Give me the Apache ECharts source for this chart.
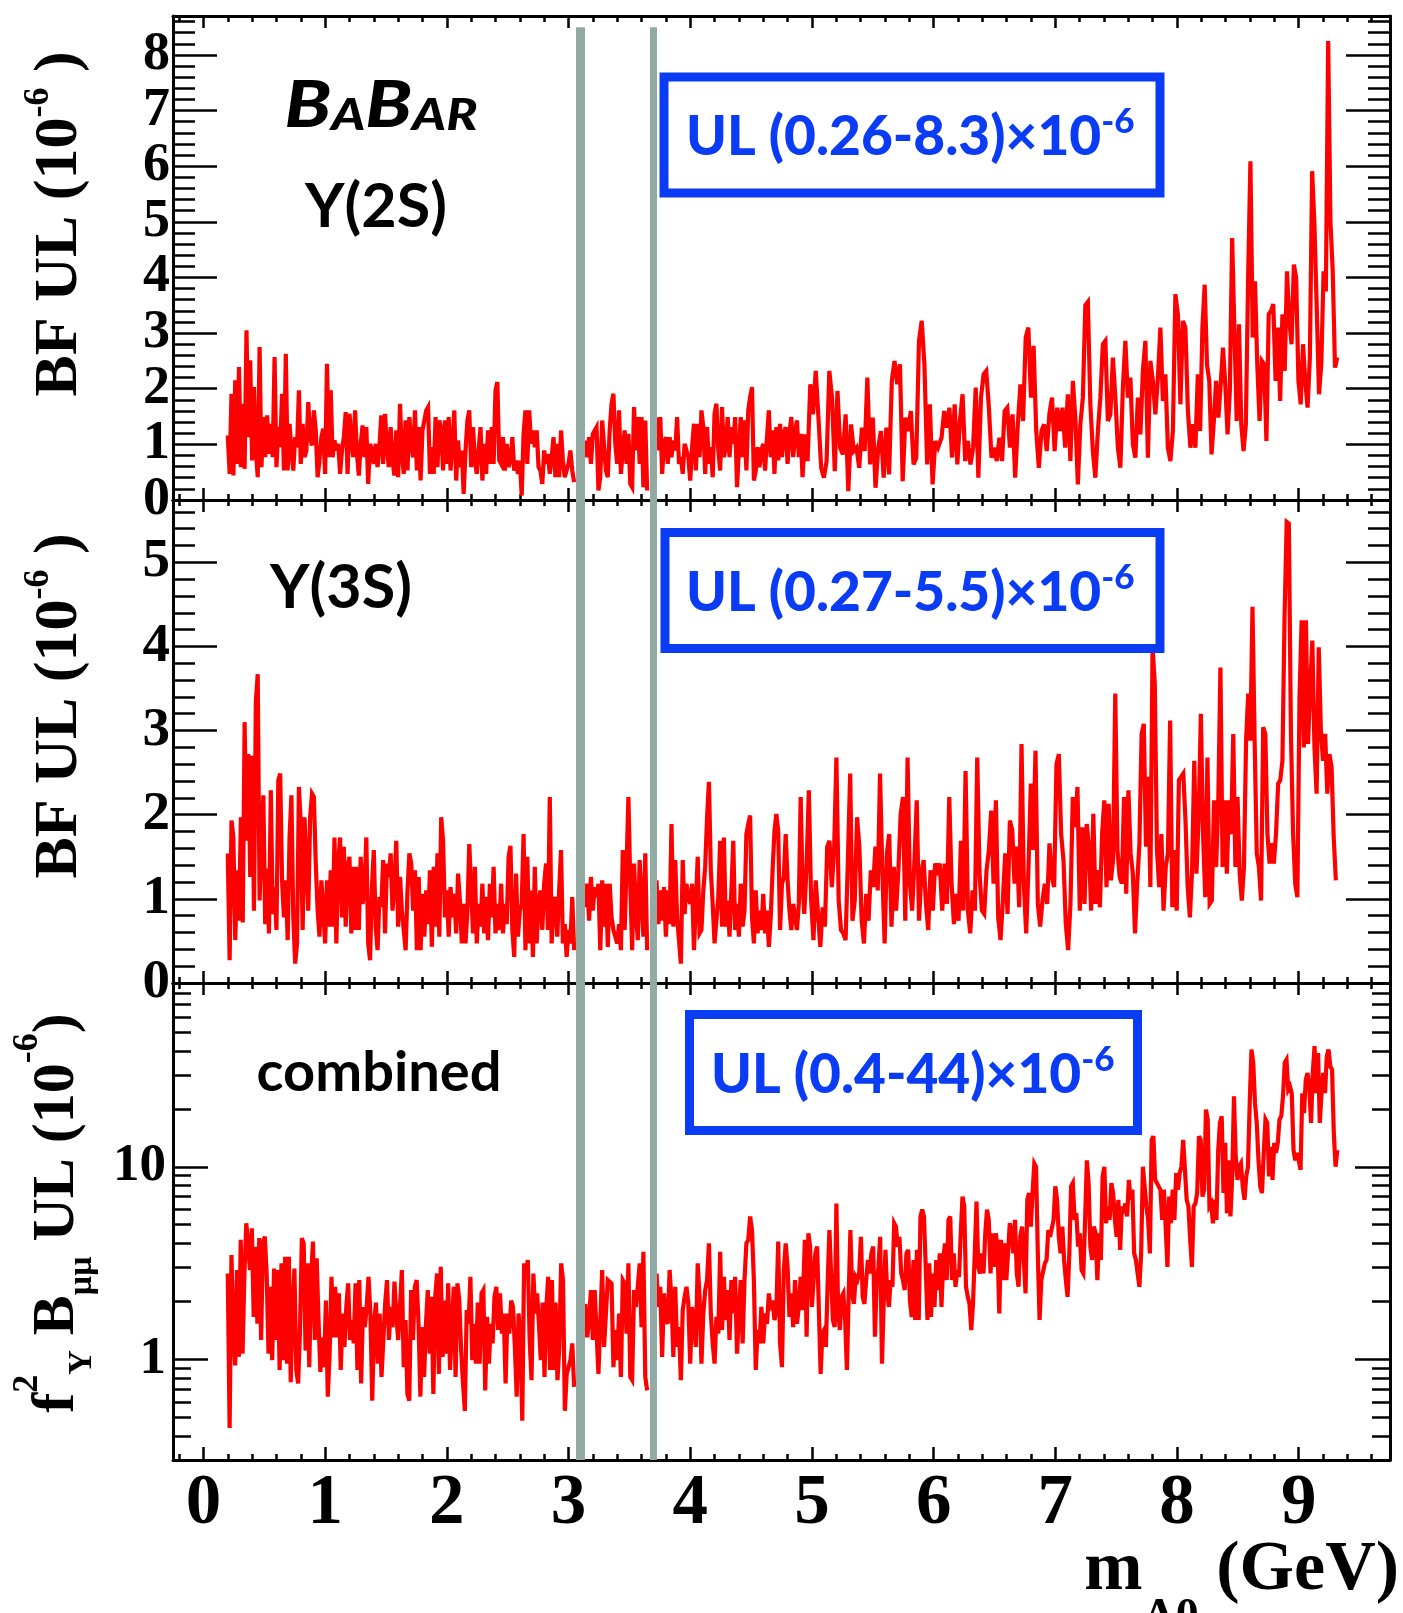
<!DOCTYPE html>
<html><head><meta charset="utf-8">
<script src="https://cdn.jsdelivr.net/npm/echarts@6/dist/echarts.min.js"></script>
<style>html,body{margin:0;padding:0;background:#fff}#c{width:1403px;height:1613px}</style>
</head><body><div id="c"></div>
<script>
// ---------------- axis ticks / labels ----------------
const X_RANGE = [-0.25, 9.75];
const X_MAJOR = [0,1,2,3,4,5,6,7,8,9];
const X_MINOR = [-0.2,0.2,0.4,0.6,0.8,1.2,1.4,1.6,1.8,2.2,2.4,2.6,2.8,3.2,3.4,3.6,3.8,4.2,4.4,4.6,4.8,5.2,5.4,5.6,5.8,6.2,6.4,6.6,6.8,7.2,7.4,7.6,7.8,8.2,8.4,8.6,8.8,9.2,9.4,9.6];
const Y2S_RANGE = [0, 8.7];
const Y2S_MAJOR = [0,1,2,3,4,5,6,7,8];
const Y3S_RANGE = [0, 5.74];
const Y3S_MAJOR = [0,1,2,3,4,5];
const YC_RANGE = [0.3, 90];
const YC_MAJOR = [1,10];
const YC_MINOR = [0.3,0.4,0.5,0.6,0.7,0.8,0.9,2,3,4,5,6,7,8,9,20,30,40,50,60,70,80,90];
const BAND_X = [3.10, 3.695];   // excluded J/psi and psi(2S) regions

// ---------------- Upsilon(2S) BF UL (1e-6) ----------------
const y2S_a = [1.16,0.47,1.91,0.44,2.15,0.65,2.39,0.59,1.73,0.56,
3.05,1.13,2.51,0.71,2.03,0.89,0.41,2.75,0.59,1.49,
0.77,1.52,0.83,1.37,0.77,2.57,0.59,1.31,0.95,1.91,
0.53,2.63,0.53,1.37,0.89,0.53,1.13,0.95,1.97,0.65,
1.37,0.77,0.89,1.76,1.13,0.98,1.61,1.25,0.41,0.71,
1.13,1.28,0.47,2.45,0.77,1.97,0.77,1.07,0.89,1.01,
0.47,0.89,1.13,1.58,0.47,1.55,1.13,0.77,1.61,0.83,
0.44,1.01,1.34,0.77,1.31,0.29,1.01,0.89,0.65,1.01,
0.59,0.95,1.52,0.65,1.55,0.95,0.59,1.31,0.71,0.44,
1.25,0.41,1.73,0.83,0.47,1.43,0.53,1.49,1.01,0.77,
1.61,0.53,1.31,0.35,1.25,1.43,1.61,1.67,0.47,0.95,
0.47,1.49,0.59,1.43,1.25,0.53,1.43,0.65,1.49,0.53,
1.01,1.61,0.35,1.07,0.59,0.89,0.11,0.89,1.43,1.61,
0.59,1.31,0.71,0.47,0.89,1.31,0.35,1.01,0.47,1.25,
0.65,1.31,0.65,1.97,2.12,0.71,0.65,1.13,0.53,1.01,
0.59,0.71,1.13,0.53,0.71,0.47,0.71,0.08,1.19,1.61,
0.65,1.61,1.01,1.25,0.95,1.25,0.59,0.53,0.29,0.89,
0.65,0.83,0.47,0.77,1.13,0.41,1.01,0.41,1.25,0.71,
0.41,0.53,0.65,0.89,0.53,0.32];
const y2S_b = [1.07,0.77,1.13,0.65,1.19,1.25,1.31,0.17,0.41,1.43,
1.46,0.53,0.41,1.25,1.73,1.91,1.01,0.65,1.61,0.47,
0.89,1.25,0.65,1.19,0.29,0.23,1.67,0.89,1.49,0.65,
1.49,0.23,1.43,0.17];
const y2S_c = [1.49,0.89,1.49,0.47,1.01,1.13,0.65,1.13,0.77,1.07,
0.89,1.49,0.65,0.77,0.47,1.01,0.89,0.77,0.35,0.95,
1.37,0.53,1.37,0.77,1.61,1.31,0.47,1.31,0.65,0.95,
0.41,1.55,1.73,0.89,0.53,1.67,0.77,0.95,1.49,0.77,
1.31,1.01,1.49,0.23,0.89,1.49,0.77,1.43,0.53,1.61,
1.85,2.03,0.35,0.53,0.95,0.59,0.89,1.01,0.53,1.13,
1.61,0.77,1.25,0.47,1.31,0.71,1.37,0.77,1.19,1.31,
0.65,1.19,1.49,0.77,1.19,1.43,0.77,1.19,0.41];
const y2S_d1 = [1.18,0.70,2.08,1.54,2.32,1.48,0.58,0.40,0.70,2.32,
1.84,0.52,1.96,0.94,0.82,1.54,0.16,1.36,0.88,0.94,
0.58,1.30,0.88,2.20,0.64,1.48,0.22,0.94,1.24,0.40,
1.30,0.46,2.14,2.50,2.08,2.44,0.34,1.48,1.24,1.60,
0.64,0.76,2.86,3.22,2.44,0.64,1.72,0.28,1.06,0.94];
const y2S_d2 = [1.12,1.60,1.30,1.66,0.76,1.72,0.64,1.42,1.90,0.70,
1.06,0.64,0.94,2.02,0.40,1.84,2.26,2.32,1.66,0.76,
0.94,0.70,1.12,0.70,1.60,1.66,0.94,1.54,0.40,1.36,
2.08,1.42,2.92,3.10,1.84,2.77,1.24,0.58,1.24,1.36,
0.88,1.54,1.84,0.88,1.66,1.24,1.66,0.94,1.90,0.70];
const y2S_d3 = [2.14,1.48,0.28,1.36,1.84,3.50,3.56,1.72,0.88,0.40,
1.24,1.84,2.80,2.86,1.42,1.54,2.56,1.84,0.94,0.58,
2.02,2.86,1.84,2.20,1.00,0.76,1.84,1.18,2.32,2.86,
0.76,2.50,2.14,1.54,2.20,3.10,1.78,2.26,0.94,0.70,
1.24,3.70,3.34,1.72,3.22,3.10,1.60,0.94,1.36,0.94];
const y2S_d4 = [2.26,1.24,3.10,3.87,2.44,2.14,0.82,1.42,2.14,1.48,
2.08,2.74,2.08,1.18,1.96,4.71,3.04,1.42,3.16,1.36,
0.88,1.36,3.99,6.09,2.92,3.93,2.44,1.42,2.50,2.44,
1.06,3.34,3.40,3.52,2.14,3.10,1.78,3.34,2.32,4.11,
3.22,2.80,4.23,3.99,2.14,1.72,2.80,2.14,1.66,2.56,
5.91,4.95,3.46,1.90,2.44,4.11,3.75,8.25,5.01,4.11,
2.38,2.56];
const SEG_2S = [[0.2,3.046,y2S_a],[3.138,3.646,y2S_b],[3.723,4.923,y2S_c],
  [4.942,6.036,y2S_d1],[6.065,7.124,y2S_d2],[7.144,8.151,y2S_d3],[8.171,9.317,y2S_d4]];

// ---------------- Upsilon(3S) BF UL (1e-6) ----------------
const y3S_a = [1.54,0.27,1.93,1.73,0.51,1.34,0.74,1.97,0.72,3.10,
1.69,2.72,1.26,2.70,0.86,3.34,3.67,0.98,1.69,2.23,
0.70,1.36,0.59,2.29,0.82,1.14,0.63,2.41,2.49,1.22,
0.78,1.22,0.51,1.73,2.23,0.78,0.23,0.47,2.33,1.89,
0.63,1.97,1.97,0.86,1.97,2.25,2.21,1.42,0.86,0.55,
1.22,0.86,0.47,1.22,0.67,1.34,0.67,1.73,0.47,1.42,
1.73,0.78,1.62,0.67,1.38,1.50,0.59,1.38,0.63,1.38,
0.63,1.50,0.94,1.10,1.73,0.47,0.27,1.14,1.58,0.67,
0.39,1.02,0.90,1.46,0.59,1.42,1.26,1.54,0.86,1.18,
1.69,0.67,1.26,0.86,0.63,0.39,1.10,1.54,1.42,0.86,
1.34,0.39,1.26,0.39,1.06,0.55,1.10,0.70,1.34,0.43,
1.38,0.67,1.54,0.55,1.97,1.69,0.78,1.10,0.55,1.14,
0.78,1.06,0.59,1.30,0.98,0.47,0.94,0.47,0.86,1.65,
1.65,0.59,1.38,0.47,0.94,0.67,1.18,0.59,1.02,0.51,
1.18,0.78,1.38,0.59,0.94,0.63,1.18,0.59,0.94,0.70,
1.50,1.63,0.63,0.31,1.30,0.55,0.86,0.94,1.77,0.39,
1.50,0.47,1.10,0.31,1.38,0.47,0.94,1.10,0.63,1.18,
1.42,0.63,2.21,0.47,0.94,1.02,0.55,1.10,1.58,0.47,
0.70,0.31,0.63,0.47,1.02,0.39];
const y3S_b = [0.90,1.18,0.74,1.26,0.86,1.14,1.02,1.18,0.39,1.22,
0.67,1.18,0.43,1.18,0.78,0.63,0.55,0.47,0.70,0.39,
1.58,0.63,1.38,2.21,1.18,0.39,1.42,0.86,0.51,1.46,
0.98,0.55,1.54,0.39];
const y3S_c = [1.22,0.70,1.10,0.74,1.14,0.55,1.10,0.70,1.89,0.67,
1.46,0.78,0.51,0.23,1.46,0.82,1.18,1.02,0.94,1.18,
0.39,0.94,1.50,0.59,0.63,1.10,1.38,1.97,2.39,1.34,
0.94,0.47,0.47,1.02,1.69,0.67,1.73,0.67,0.98,0.55,
1.10,1.69,0.63,0.94,0.55,1.18,0.67,0.86,1.77,1.89,
1.99,0.78,0.47,1.10,0.59,0.86,0.63,1.06,0.59,0.86,
0.43,0.78,1.34,1.81,2.01,1.81,0.63,1.18,1.26,1.77,
1.22,0.86,0.63,0.94,0.94,0.63,0.94,2.21,1.18];
const y3S_d1 = [0.82,1.38,2.29,0.98,0.51,1.22,0.82,0.43,0.90,0.67,
1.62,1.69,1.14,1.58,2.68,0.98,0.63,0.59,0.51,1.46,
2.49,0.74,0.98,1.97,1.62,0.74,0.47,1.06,0.74,1.34,
1.14,1.62,1.10,2.49,1.34,0.47,1.54,1.77,0.67,1.38,
0.86,1.34,2.01,2.21,0.74,2.68,1.18,0.86,1.46,2.17,
0.74,1.30,1.46,0.94,0.63,1.34,0.86,1.42,1.34,1.42];
const y3S_d2 = [0.86,1.42,0.94,2.21,1.18,0.70,1.06,0.74,1.69,0.86,
2.52,0.86,0.59,1.10,0.86,2.68,1.30,0.86,0.82,1.34,
1.58,2.05,1.18,2.17,0.78,0.51,0.98,1.54,0.82,1.93,
1.82,1.18,1.62,0.90,2.84,1.18,0.59,1.38,2.37,1.58,
2.76,0.94,0.67,0.98,1.18,0.94,1.66,1.26,1.14,2.60,
2.72,1.77,1.46,0.70,0.39,0.94,2.21,1.85,2.33,0.86];
const y3S_d3 = [1.85,0.94,1.89,1.62,0.86,2.01,0.94,1.34,0.90,1.77,
2.17,1.14,2.13,1.22,1.46,3.44,1.58,1.26,1.18,2.21,
1.06,2.29,1.54,1.30,0.59,1.18,1.66,2.96,3.08,1.62,
2.45,1.14,3.99,3.56,1.58,1.14,1.77,0.86,1.38,1.54,
3.12,0.90,1.58,0.86,2.41,2.45,2.49,1.93,1.14,0.78,
1.34,2.64,1.30,1.97,3.20,1.77,1.02,2.68,0.94,0.98];
const y3S_d4 = [2.17,1.38,2.17,3.75,1.38,2.17,1.30,2.17,1.77,2.96,
1.38,2.21,1.30,0.98,1.38,2.88,3.44,2.88,4.47,2.88,
1.54,1.38,0.98,3.04,2.96,1.77,1.42,1.66,1.42,1.77,
2.37,2.41,2.64,4.35,5.48,5.46,2.96,1.77,1.18,1.02,
3.40,4.31,2.80,4.31,2.84,3.52,4.07,2.80,2.25,3.99,
3.00,2.64,2.96,2.25,2.72,2.57,1.73,1.22];
const SEG_3S = [[0.2,3.046,y3S_a],[3.138,3.646,y3S_b],[3.723,4.923,y3S_c],
  [4.937,6.050,y3S_d1],[6.071,7.201,y3S_d2],[7.222,8.286,y3S_d3],[8.304,9.305,y3S_d4]];

// ---------------- combined f^2 B_mumu UL (1e-6) ----------------
const comb_a = [2.79,0.44,3.48,1.42,0.93,2.91,1.03,4.17,1.07,2.79,
5.09,4.0,2.91,4.79,1.66,3.84,1.53,4.26,1.26,4.0,
4.34,2.79,1.07,2.38,0.99,2.96,1.26,2.91,0.88,3.15,
0.99,3.41,0.95,3.41,0.76,1.87,2.96,0.88,0.75,1.42,
4.26,4.0,1.11,3.15,0.91,2.68,4.09,1.26,3.35,1.60,
0.86,1.30,0.91,2.02,0.64,1.07,2.68,1.30,2.38,1.30,
2.20,0.88,1.73,1.16,1.87,2.48,1.26,1.60,1.21,2.48,
0.88,2.58,0.75,1.87,1.47,1.87,2.68,1.73,0.61,1.53,
1.97,0.95,1.73,0.81,1.26,1.97,2.58,1.26,1.87,1.47,
2.53,1.73,1.26,1.87,2.91,0.91,1.60,0.66,0.61,2.29,
1.26,2.38,2.58,1.53,0.64,1.47,0.81,1.53,2.29,1.07,
2.11,0.66,2.11,2.79,0.84,3.02,1.03,2.02,1.07,2.48,
0.88,0.88,2.38,0.81,2.48,2.02,1.11,0.75,0.54,1.80,
1.53,2.68,0.99,1.53,0.95,1.97,0.95,2.20,2.29,0.69,
1.66,0.95,1.53,1.21,2.11,2.38,1.42,2.20,1.36,1.73,
0.75,1.73,1.36,2.02,1.87,1.16,0.64,1.73,1.30,0.48,
3.15,2.79,3.28,1.26,0.78,2.79,1.73,2.20,1.53,0.99,
1.97,0.81,1.87,2.68,0.88,2.58,0.88,1.97,0.78,1.16,
3.15,2.58,0.54,0.84,0.91,0.99,1.21,0.72];
const comb_b = [1.94,1.30,1.60,2.29,1.26,2.29,2.29,0.84,1.60,2.91,
1.16,1.16,2.58,2.58,2.48,0.91,1.42,0.99,1.73,0.81,
2.58,2.48,1.36,3.15,0.81,0.78,2.29,1.87,2.38,3.15,
1.47,3.62,0.81,0.69];
const comb_c = [2.79,1.87,2.38,1.03,2.20,1.60,1.53,2.91,2.02,1.03,
2.38,1.16,1.47,0.78,1.80,2.11,2.38,1.94,0.95,1.87,
1.47,1.16,3.15,2.11,0.95,1.73,2.29,2.58,4.0,1.73,
1.21,0.95,1.66,1.36,3.62,1.42,2.68,1.60,2.29,1.26,
2.58,1.73,2.68,1.07,1.73,2.58,1.21,2.58,4.0,4.17,
5.52,4.69,2.58,0.88,1.42,1.21,1.87,1.21,1.73,1.53,
2.20,1.80,2.02,1.60,1.80,4.09,1.21,0.91,2.91,4.0,
3.02,1.66,2.20,1.47,2.58,1.53,1.87,2.68,1.80];
const comb_d = [4.17,1.31,4.51,3.85,1.87,1.87,3.55,3.85,1.80,0.84,
1.36,1.42,1.16,2.48,4.69,4.69,1.60,1.47,6.45,1.73,
1.42,2.11,2.20,1.60,0.88,2.11,4.69,2.20,1.94,2.68,
2.58,2.79,4.33,2.11,1.94,2.58,3.28,2.79,3.55,3.85,
1.31,2.48,3.02,4.33,0.95,1.94,3.70,2.20,1.87,2.58,
2.38,5.09,4.89,3.85,4.33,2.79,2.58,2.29,3.55,3.70,
2.02,1.66,3.28,1.60,3.70,1.60,5.52,5.99,5.52,3.02,
1.60,3.15,1.66,2.79,1.87,3.28,2.29,3.55,1.87,3.28,
4.0,2.58,5.30,5.52,2.58,3.55,2.38,2.90,2.68,4.51,
7.0,6.22,2.38,2.11,1.94,1.42,1.94,3.55,6.59,3.02,
2.79,3.55,2.79,4.51,5.99,5.30,2.79,4.51,3.02,4.51,
3.85,1.73,4.17,2.58,4.0,2.58,3.55,5.09,4.51,3.55,
5.30,2.79,2.38,4.33,4.89,4.89,2.20,6.74,7.30,4.89,
7.30,10.4,10.0,3.55,1.60,2.58,2.58,3.15,3.28,4.69,
4.33,4.33,5.30,7.91,6.74,4.33,3.55,4.89,3.28,2.58,
2.11,3.55,7.91,8.23,5.30,5.73,3.85,4.51,2.90,2.79,
5.30,10.8,8.23,3.85,3.28,4.89,4.51,2.58,4.51,3.28,
8.91,10.0,5.09,6.22,5.30,8.23,7.30,5.30,4.33,6.74,
3.70,6.22,5.73,6.45,5.52,8.55,6.74,7.60,3.55,3.28,
2.79,2.38,3.55,10.0,10.0,6.22,5.30,3.55,13.8,14.4,
8.55,8.23,7.91,7.60,5.30,7.60,4.89,3.02,7.0,5.09,
7.60,5.30,9.26,7.60,9.26,10.0,13.8,13.8,6.74,6.22,
4.17,3.02,6.22,6.45,7.30,14.4,13.8,7.0,7.60,19.8,
17.6,6.22,6.45,5.09,6.74,5.30,12.2,16.9,18.3,7.30,
13.3,5.73,10.8,5.52,8.91,23.2,11.3,8.55,10.0,10.4,
7.91,6.74,8.91,10.0,21.4,40.6,34.7,21.4,16.9,10.8,
7.91,7.30,11.8,17.6,16.9,8.91,12.7,8.55,13.3,11.8,
13.3,17.6,18.3,23.2,34.7,36.0,25.1,26.1,24.1,12.2,
10.8,11.8,10.8,9.63,24.1,19.0,28.3,30.7,26.1,16.9,
30.7,42.3,24.1,39.0,16.9,24.1,30.7,24.1,37.5,40.6,
33.3,32.0,15.0,10.0,12.2];
const SEG_COMB = [[0.2,3.046,comb_a],[3.138,3.646,comb_b],[3.723,4.923,comb_c],[4.942,9.317,comb_d]];

// ---------------- build ----------------
function buildLine(segs){
  const out = [];
  segs.forEach((s, k) => {
    const x0 = s[0], x1 = s[1], vals = s[2];
    if (k > 0 && x0 - segs[k-1][1] > 0.05) out.push([(x0 + segs[k-1][1]) / 2, '-']);
    const n = vals.length;
    vals.forEach((v, i) => out.push([x0 + (x1 - x0) * i / (n - 1), v]));
  });
  return out;
}
function minorLinear(max){
  const a = [];
  for (let i = 1; i * 0.2 < max; i++) if (i % 5) a.push(+(i * 0.2).toFixed(1));
  return a;
}

const BLACK = '#000';
const SERIF = "'Liberation Serif', 'Times New Roman', serif";
const GRIDS = [
  {left:173, right:13, top:16, height:484},
  {left:173, right:13, top:500, height:483},
  {left:173, right:13, top:983, height:477}
];

function xAxesFor(g, showLabels, majLen){
  const base = {gridIndex:g, type:'value', min:X_RANGE[0], max:X_RANGE[1], splitLine:{show:false}, axisLabel:{show:false}};
  const lineOn = {show:true, onZero:false, lineStyle:{color:BLACK, width:3}};
  const lineOff = {show:false, onZero:false};
  const tk = (len, vals) => ({show:true, inside:true, length:len, customValues:vals, lineStyle:{color:BLACK, width:2.5}});
  return [
    Object.assign({}, base, {position:'bottom', axisLine:lineOn, axisTick:tk(majLen, X_MAJOR),
      axisLabel: showLabels ? {show:true, customValues:X_MAJOR, showMinLabel:true, showMaxLabel:true, margin:9, color:BLACK, fontFamily:SERIF, fontWeight:'bold', fontSize:71} : {show:false}}),
    Object.assign({}, base, {position:'bottom', axisLine:lineOff, axisTick:tk(6, X_MINOR)}),
    Object.assign({}, base, {position:'top', axisLine:lineOn, axisTick:tk(12, X_MAJOR)}),
    Object.assign({}, base, {position:'top', axisLine:lineOff, axisTick:tk(6, X_MINOR)})
  ];
}
function yAxesFor(g, type, range, major, minor, majLen, minLen, fs, margin){
  const base = {gridIndex:g, type:type, min:range[0], max:range[1], splitLine:{show:false}, axisLabel:{show:false}};
  if (type === 'log') base.logBase = 10;
  const lineOn = {show:true, onZero:false, lineStyle:{color:BLACK, width:3}};
  const lineOff = {show:false, onZero:false};
  const tk = (len, vals) => ({show:true, inside:true, length:len, customValues:vals, lineStyle:{color:BLACK, width:2.5}});
  return [
    Object.assign({}, base, {position:'left', axisLine:lineOn, axisTick:tk(majLen, major),
      axisLabel:{show:true, customValues:major, showMinLabel:true, showMaxLabel:true, hideOverlap:false,
        margin:margin, color:BLACK, fontFamily:SERIF, fontWeight:'bold', fontSize:fs}}),
    Object.assign({}, base, {position:'left', axisLine:lineOff, axisTick:tk(minLen, minor)}),
    Object.assign({}, base, {position:'right', axisLine:lineOn, axisTick:tk(majLen, major)}),
    Object.assign({}, base, {position:'right', axisLine:lineOff, axisTick:tk(minLen, minor)})
  ];
}

function bandLines(yLo, yHi){
  return {
    silent:true, symbol:['none','none'], label:{show:false}, animation:false, z:6,
    lineStyle:{type:'solid', color:'#91aaa3', opacity:1},
    emphasis:{disabled:true},
    data:[
      [{coord:[BAND_X[0], yHi], lineStyle:{width:9, color:'#91aaa3', type:'solid'}}, {coord:[BAND_X[0], yLo]}],
      [{coord:[BAND_X[1], yHi], lineStyle:{width:7, color:'#91aaa3', type:'solid'}}, {coord:[BAND_X[1], yLo]}]
    ]
  };
}
function lineSeries(xi, yi, data, mk){
  return {type:'line', xAxisIndex:xi, yAxisIndex:yi, data:data, symbol:'none', showSymbol:false,
    lineStyle:{color:'#ff0000', width:4.2, join:'miter', miterLimit:4}, connectNulls:false, animation:false, clip:true, z:3,
    emphasis:{disabled:true}, markLine:mk};
}

const BLUE = '#0b3cf5';
const LATO = "Lato, 'Open Sans', sans-serif";
function box(x, y, w, h){
  return {type:'rect', z:100, shape:{x:x, y:y, width:w, height:h}, style:{fill:'#fff', stroke:BLUE, lineWidth:9}};
}
function ulText(x, y, main){
  return {type:'text', z:101, x:x, y:y, style:{
    text:'{a|' + main + '}{s|-6}', align:'left', verticalAlign:'top',
    rich:{a:{fontFamily:LATO, fontWeight:900, fontSize:55, padding:[6,0,0,0], verticalAlign:'top', fill:BLUE},
          s:{fontFamily:LATO, fontWeight:900, fontSize:35, verticalAlign:'top', fill:BLUE}}}};
}
function plainText(x, y, txt, size, extra){
  return {type:'text', z:101, x:x, y:y, style:Object.assign({text:txt, align:'center', verticalAlign:'middle',
    fontFamily:LATO, fontWeight:'bold', fontSize:size, fill:'#000'}, extra || {})};
}
const titleRich = {
  a:{fontFamily:SERIF, fontWeight:'bold', fontSize:62, padding:[8,0,0,0], verticalAlign:'top', fill:'#000'},
  s:{fontFamily:SERIF, fontWeight:'bold', fontSize:36, verticalAlign:'top', fill:'#000'}
};

const option = {
  animation:false,
  backgroundColor:'#fff',
  grid: GRIDS.map(g => Object.assign({containLabel:false, outerBoundsMode:'none'}, g)),
  xAxis: [].concat(xAxesFor(0, false, 12), xAxesFor(1, false, 12), xAxesFor(2, true, 13)),
  yAxis: [].concat(
    yAxesFor(0, 'value', Y2S_RANGE, Y2S_MAJOR, minorLinear(Y2S_RANGE[1]), 44, 22, 54, 3),
    yAxesFor(1, 'value', Y3S_RANGE, Y3S_MAJOR, minorLinear(Y3S_RANGE[1]), 44, 22, 55, 3),
    yAxesFor(2, 'log', YC_RANGE, YC_MAJOR, YC_MINOR, 35, 18, 53, 7)
  ),
  series: [
    lineSeries(0, 0, buildLine(SEG_2S), bandLines(Y2S_RANGE[0], 8.5)),
    lineSeries(4, 4, buildLine(SEG_3S), bandLines(Y3S_RANGE[0], Y3S_RANGE[1])),
    lineSeries(8, 8, buildLine(SEG_COMB), bandLines(YC_RANGE[0], YC_RANGE[1]))
  ],
  graphic: [
    box(664, 77, 496, 116), box(665, 532.5, 495, 116), box(689.5, 1014.5, 448, 116),
    ulText(686, 104, 'UL (0.26-8.3)×10'),
    ulText(686, 560, 'UL (0.27-5.5)×10'),
    ulText(711, 1042, 'UL (0.4-44)×10'),
    {type:'text', z:101, x:381, y:106, scaleX:1.18, scaleY:1, style:{text:'{b|B}{s|A}{b|B}{s|AR}', align:'center', verticalAlign:'middle',
      rich:{b:{fontFamily:LATO, fontWeight:900, fontStyle:'italic', fontSize:64, verticalAlign:'bottom', fill:'#000'},
            s:{fontFamily:LATO, fontWeight:900, fontStyle:'italic', fontSize:44, verticalAlign:'bottom', fill:'#000'}}}},
    plainText(376, 207, 'Υ(2S)', 61),
    plainText(341, 588, 'Υ(3S)', 61),
    plainText(379, 1073, 'combined', 56),
    // y-axis titles
    {type:'text', z:101, x:21, y:224, rotation:Math.PI/2, style:{text:'{a|BF UL (10}{s|-6}{a| )}', align:'center', verticalAlign:'top', rich:titleRich}},
    {type:'text', z:101, x:21, y:706, rotation:Math.PI/2, style:{text:'{a|BF UL (10}{s|-6}{a| )}', align:'center', verticalAlign:'top', rich:titleRich}},
    {type:'text', z:101, x:10, y:1213, rotation:Math.PI/2, style:{text:'{a|f}{p|2}{b|Υ}{a| B}{b|μμ}{a| UL (10}{p|-6}{a|)}', align:'center', verticalAlign:'top',
      rich:{a:{fontFamily:SERIF, fontWeight:'bold', fontSize:60, padding:[17,0,0,0], verticalAlign:'top', fill:'#000'},
            p:{fontFamily:SERIF, fontWeight:'bold', fontSize:36, verticalAlign:'top', fill:'#000'},
            b:{fontFamily:SERIF, fontWeight:'bold', fontSize:34, padding:[55,0,0,0], verticalAlign:'top', fill:'#000'}}}},
    // x-axis title
    {type:'text', z:101, x:1399, y:1536, style:{text:'{a|m}{b|A0}{a| (GeV)}', align:'right', verticalAlign:'top',
      rich:{a:{fontFamily:SERIF, fontWeight:'bold', fontSize:70, verticalAlign:'top', fill:'#000'},
            b:{fontFamily:SERIF, fontWeight:'bold', fontSize:46, padding:[59,0,0,0], verticalAlign:'top', fill:'#000'}}}}
  ]
};

const chart = echarts.init(document.getElementById('c'), null, {renderer:'canvas', width:1403, height:1613});
chart.setOption(option);
</script></body></html>
